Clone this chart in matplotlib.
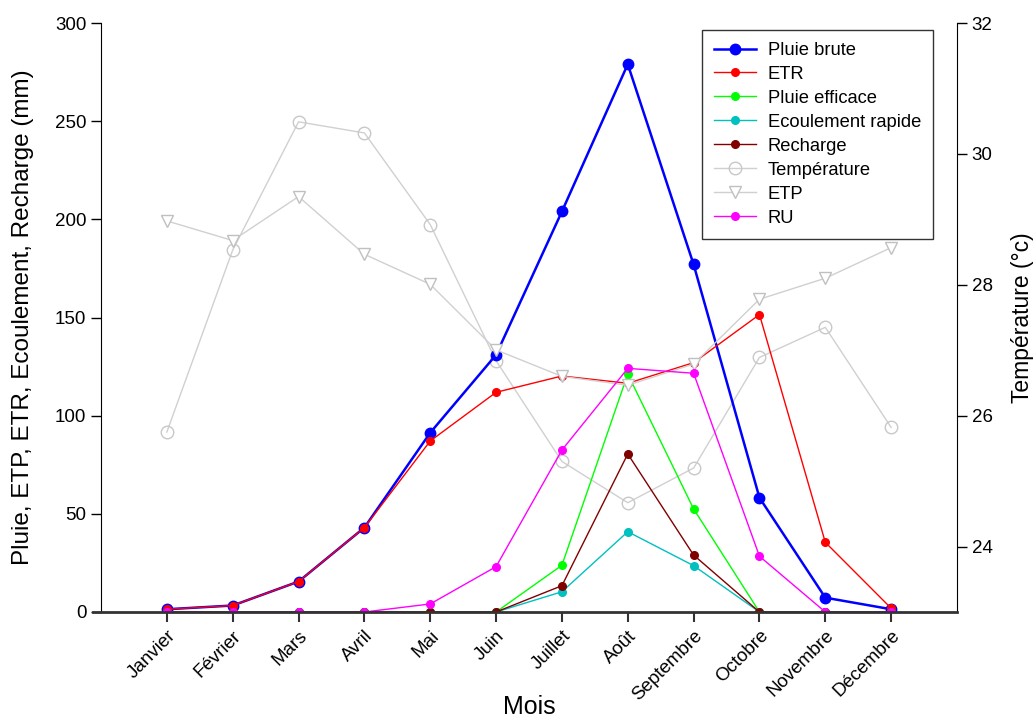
import matplotlib.pyplot as plt

plt.rcParams['font.family'] = ['Liberation Sans', 'DejaVu Sans']

# Données mensuelles
mois = ['Janvier', 'Février', 'Mars', 'Avril', 'Mai', 'Juin', 'Juillet',
        'Août', 'Septembre', 'Octobre', 'Novembre', 'Décembre']
pluie_brute = [1.4, 3.3, 15.5, 43, 91.3, 131, 204, 279, 177, 58.2, 7.3, 1.4]
etr = [1.4, 3.3, 15.5, 43, 87.1, 111.9, 120.2, 116.5, 127, 151.5, 35.5, 1.9]
pluie_efficace = [0, 0, 0, 0, 0, 0, 23.8, 121.2, 52.5, 0, 0, 0]
ecoulement = [0, 0, 0, 0, 0, 0, 10.3, 40.9, 23.6, 0, 0, 0]
recharge = [0, 0, 0, 0, 0, 0, 13.4, 80.5, 29.0, 0, 0, 0]
temperature = [25.75, 28.53, 30.49, 30.32, 28.92, 26.84, 25.30, 24.67, 25.20,
               26.89, 27.35, 25.82]
etp = [199.2, 189.2, 211.6, 182.2, 166.9, 133.5, 120.0, 115.5, 126.3, 159.3,
       170.0, 185.6]
ru = [0, 0, 0, 0, 4.1, 23.1, 82.5, 124.1, 121.6, 28.4, 0, 0]

x = list(range(1, len(mois) + 1))
gris = '#d0d0d0'

fig = plt.figure(figsize=(10.36, 7.17), dpi=100)
ax = fig.add_axes([101 / 1036, 1 - 612 / 717, 856 / 1036, 589 / 717])
ax2 = ax.twinx()
ax.set_zorder(ax2.get_zorder() + 1)
ax.patch.set_visible(False)

l_temp, = ax2.plot(x, temperature, color=gris, lw=1, marker='o', ms=9,
                   mfc='none', mec='#c8c8c8', mew=1, label='Température')

l_pb, = ax.plot(x, pluie_brute, color='#0000ff', lw=1.8, marker='o', ms=7.5,
                label='Pluie brute')
l_etr, = ax.plot(x, etr, color='#ff0000', lw=1, marker='o', ms=5.5, label='ETR')
l_pe, = ax.plot(x, pluie_efficace, color='#00ff00', lw=1, marker='o', ms=5.5,
                label='Pluie efficace')
l_ec, = ax.plot(x, ecoulement, color='#00c0c0', lw=1, marker='o', ms=5.5,
                label='Ecoulement rapide')
l_re, = ax.plot(x, recharge, color='#800000', lw=1, marker='o', ms=5.5,
                label='Recharge')
l_etp, = ax.plot(x, etp, color=gris, lw=1, marker='v', ms=9, mfc='white',
                 mec='#c0c0c0', mew=1, label='ETP')
l_ru, = ax.plot(x, ru, color='#ff00ff', lw=1, marker='o', ms=5.5, label='RU')

ax.set_xlim(0, 13)
ax.set_ylim(0, 300)
ax2.set_ylim(23, 32)
ax.set_xticks(x)
ax.set_xticklabels(mois, rotation=45, ha='right', rotation_mode='anchor',
                   fontsize=13.5)
ax.set_yticks(range(0, 301, 50))
ax2.set_yticks([24, 26, 28, 30, 32])
ax.tick_params(axis='y', labelsize=13.5, length=7, width=1)
ax.tick_params(axis='x', length=7, width=1.5, color='#333333', pad=4)
ax2.tick_params(axis='y', labelsize=13.5, length=7, width=1)

for a in (ax, ax2):
    a.spines['top'].set_visible(False)
ax2.spines['bottom'].set_visible(False)
ax2.spines['left'].set_visible(False)
ax.spines['right'].set_visible(False)
ax.spines['bottom'].set_linewidth(2)
ax.spines['bottom'].set_color('#333333')
ax.spines['bottom'].set_bounds(-0.12, 13)

ax.set_xlabel('Mois', fontsize=18, va='center')
ax.xaxis.set_label_coords(0.5, (612 - 707) / 589)
ax.set_ylabel('Pluie, ETP, ETR, Ecoulement, Recharge (mm)', fontsize=17.5,
              labelpad=15)
ax2.set_ylabel('Température (°c)', fontsize=16.5, labelpad=13)

handles = [l_pb, l_etr, l_pe, l_ec, l_re, l_temp, l_etp, l_ru]
leg = ax.legend(handles=handles, loc='upper right',
                bbox_to_anchor=(832 / 856, 582 / 589), fontsize=13.2,
                frameon=True, fancybox=False, edgecolor='black',
                handlelength=2.3, handletextpad=0.65, labelspacing=0.38,
                borderpad=0.65, borderaxespad=0)
leg.get_frame().set_linewidth(1)

fig.savefig('out.png', dpi=100)
